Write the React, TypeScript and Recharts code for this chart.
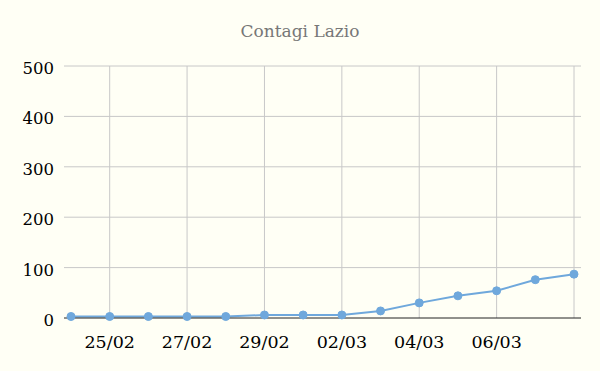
import React from 'react';
import { LineChart, Line, XAxis, YAxis, CartesianGrid, ReferenceLine } from 'recharts';

const dates = ['24/02', '25/02', '26/02', '27/02', '28/02', '29/02', '01/03', '02/03', '03/03', '04/03', '05/03', '06/03', '07/03', '08/03'];
const contagi = [3, 3, 3, 3, 3, 6, 6, 6, 14, 30, 44, 54, 76, 87];
const xTicks = ['25/02', '27/02', '29/02', '02/03', '04/03', '06/03', '08/03'];
const yTicks = [0, 100, 200, 300, 400, 500];
const gridValues = [100, 200, 300, 400, 500];
const hiddenLabels = ['08/03'];

const data = dates.map((d, i) => ({ date: d, value: contagi[i] }));

const FONT = '"DejaVu Serif", serif';

const XTick = (props: any) => {
  const { x, y, payload } = props;
  if (hiddenLabels.includes(payload.value)) return null;
  return (
    <text x={x} y={y} dy={22} textAnchor="middle" fill="#000" fontFamily={FONT} fontSize={17.5}>
      {payload.value}
    </text>
  );
};

const YTick = (props: any) => {
  const { y, payload } = props;
  return (
    <text x={54} y={y} dy={8} textAnchor="end" fill="#000" fontFamily={FONT} fontSize={16.5}>
      {payload.value}
    </text>
  );
};

export default function App() {
  return (
    <div style={{ position: 'fixed', left: 0, top: 0, width: 600, height: 371, background: '#fffff5' }}>
      <div style={{ position: 'absolute', top: 21, left: 0, width: 600, textAlign: 'center', fontFamily: FONT, fontSize: 17, color: '#777' }}>
        Contagi Lazio
      </div>
      <div style={{ position: 'absolute', left: 0, top: 0 }}>
        <LineChart width={600} height={371} data={data} margin={{ top: 66, right: 19, bottom: 23, left: 0 }}>
          <CartesianGrid stroke="#c8c8c8" strokeWidth={1} vertical={false} horizontalValues={gridValues} />
          {xTicks.map((t) => (
            <ReferenceLine key={t} x={t} stroke="#c8c8c8" strokeWidth={1} />
          ))}
          <XAxis
            dataKey="date"
            ticks={xTicks}
            interval={0}
            tick={<XTick />}
            tickLine={false}
            axisLine={{ stroke: '#222', strokeWidth: 1 }}
            padding={{ left: 7, right: 7 }}
            height={30}
          />
          <YAxis
            domain={[0, 500]}
            ticks={yTicks}
            tick={<YTick />}
            tickLine={false}
            axisLine={false}
            width={64}
          />
          <Line
            dataKey="value"
            stroke="#6fa8dc"
            strokeWidth={2}
            dot={{ r: 4, fill: '#6fa8dc', stroke: '#6fa8dc', strokeWidth: 1 }}
            isAnimationActive={false}
          />
        </LineChart>
      </div>
    </div>
  );
}
